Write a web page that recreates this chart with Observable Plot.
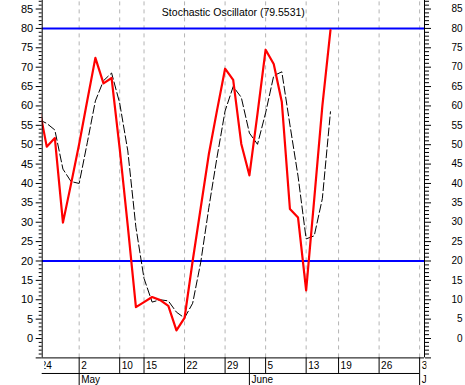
<!DOCTYPE html>
<html><head><meta charset="utf-8">
<script src="https://cdn.jsdelivr.net/npm/d3@7"></script>
<script src="https://cdn.jsdelivr.net/npm/@observablehq/plot@0.6"></script>
<style>body{margin:0;background:#fff} svg{display:block}</style>
</head><body><div id="chart"></div>
<script>
const title = "Stochastic Oscillator (79.5531)";
// trading-day index (0 = May 2)
const dayIndex = [-5,-4,-3,-2,-1,0,1,2,3,4,5,6,7,8,9,10,11,12,13,14,15,16,17,18,19,20,21,22,23,24,25,26,27,28,29,30,31];
const percentK = [60.4,49.5,51.7,29.9,39.9,50.2,61.4,72.4,65.8,67.2,49,29,8.1,9.4,10.7,9.9,8.4,2.1,5.3,20,33.8,47.6,58.8,69.6,66.7,50.2,42.1,58,74.5,70.8,61,33.4,31.2,12.4,36,60,79.55];
const percentD = [56.5,55.5,53.8,43.7,40.5,40.0,50.5,61.3,66.5,68.5,60.7,48.4,28.7,15.5,9.4,10.0,9.7,6.8,5.3,9.1,19.7,33.8,46.7,58.7,65.0,62.2,53.0,50.1,58.2,67.8,68.8,55.1,41.9,25.7,26.5,36.1,58.5];
const dateLabelText = ["24","2","10","15","22","29","5","13","19","26","3"];
const dateLabelDay  = [-5,0,5,8,13,18,23,28,32,37,42];
const monthText = ["May","June","July"];
const monthDay  = [0,21,42];
const gridDays = [0,5,8,13,18,23,28,32,37,42];
const majorTicks = d3.range(-5, 86, 5);
const minorTicks = d3.range(-5, 88, 1).filter(v => v % 5 !== 0);
const levels = [20, 80];

const data = dayIndex.map((d, i) => ({day: d, k: percentK[i], d: percentD[i]}));
const dateLabels = dateLabelText.map((t, i) => ({label: t, day: dateLabelDay[i]}));
const months = monthText.map((t, i) => ({label: t, day: monthDay[i]}));
const separatorDays = Array.from(new Set([...dateLabelDay, ...monthDay])).sort((a,b)=>a-b);

const xDomain = [-4.56, 42.6];
const yDomain = [-5, 87.2];
const rowBottom = -9.02, monthBottom = -14;
const font = "Liberation Sans, Arial, sans-serif";

const chart = Plot.plot({
  width: 465, height: 385,
  marginLeft: 41.7, marginRight: 41, marginTop: 0, marginBottom: 27.6,
  x: {domain: xDomain, axis: null},
  y: {domain: yDomain, axis: null},
  style: {fontFamily: font, background: "white", color: "black"},
  marks: [
    Plot.ruleX(gridDays, {y1: yDomain[0], y2: yDomain[1], stroke: "#b4b4b4", strokeDasharray: "4,4"}),
    Plot.ruleY(levels, {stroke: "#0000ff", strokeWidth: 2}),
    Plot.line(data, {x: "day", y: "d", stroke: "black", strokeWidth: 1, strokeDasharray: "8,3", clip: true}),
    Plot.line(data, {x: "day", y: "k", stroke: "#ff0000", strokeWidth: 2.2, clip: true}),
    Plot.ruleX(xDomain, {y1: yDomain[0], y2: yDomain[1], stroke: "black"}),
    Plot.ruleY([yDomain[0]], {x1: xDomain[0], x2: xDomain[1], stroke: "black"}),
    Plot.ruleY([rowBottom], {x1: xDomain[0], x2: 42, stroke: "black"}),
    Plot.ruleX(separatorDays, {y1: yDomain[0], y2: rowBottom, stroke: "black", className: "bclip"}),
    Plot.ruleX(monthDay, {y1: rowBottom, y2: monthBottom, stroke: "black"}),
    Plot.text(dateLabels, {x: "day", y: yDomain[0], text: "label", textAnchor: "start", dx: 2, dy: 7.5, fontSize: 10, className: "bclip"}),
    Plot.text(months, {x: "day", y: rowBottom, text: "label", textAnchor: "start", lineAnchor: "top", dx: 2, dy: 2, fontSize: 10, className: "bclip"}),
    Plot.axisY({anchor: "left", ticks: majorTicks, tickSize: 6, tickPadding: 3, fontSize: 11, tickFormat: d => d < 0 ? "" : String(d)}),
    Plot.axisY({anchor: "left", ticks: minorTicks, tickSize: 3, tickFormat: () => ""}),
    Plot.axisY({anchor: "right", ticks: majorTicks, tickSize: 6, tickPadding: 32, textAnchor: "end", fontSize: 10, tickFormat: d => d < 0 ? "" : String(d)}),
    Plot.axisY({anchor: "right", ticks: minorTicks, tickSize: 4, tickFormat: () => ""}),
    Plot.text([title], {frameAnchor: "top", dy: 8, fontSize: 10.5})
  ]
});
document.getElementById("chart").appendChild(chart);
const svg = d3.select(chart);
const x = chart.scale("x");
const x0 = x.apply(xDomain[0]), x1 = x.apply(xDomain[1]);
svg.append("defs").append("clipPath").attr("id", "bottomClip")
  .append("rect").attr("x", x0).attr("y", 0).attr("width", x1 - x0).attr("height", 385);
let targets = svg.selectAll("g.bclip");
if (targets.empty()) {
  // fallback: groups whose elements lie below the frame
  const labelSet = new Set([...dateLabelText, ...monthText]);
  targets = svg.selectAll("g").filter(function() {
    const t = this.querySelectorAll(":scope > text");
    return t.length > 0 && Array.from(t).every(n => labelSet.has(n.textContent));
  });
}
targets.attr("clip-path", "url(#bottomClip)");
</script></body></html>
